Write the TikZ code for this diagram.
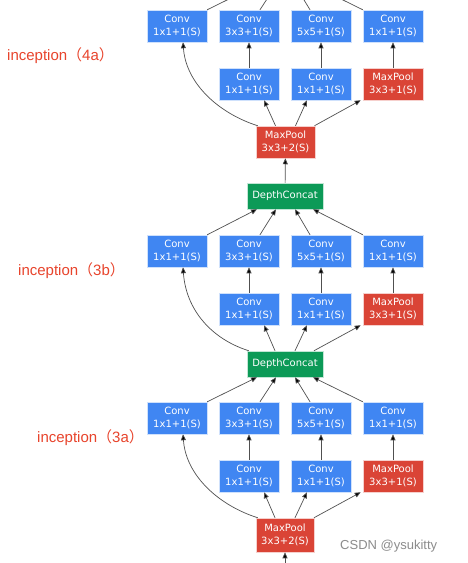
\documentclass[tikz,border=0pt]{standalone}
\usepackage{fontspec}
\setmainfont{DejaVu Sans}
\newfontfamily\labfont{Liberation Sans}
\newfontfamily\cjkfont{Noto Sans CJK SC}
\usetikzlibrary{arrows.meta,calc}
\definecolor{gblue}{HTML}{4086F2}
\definecolor{gred}{HTML}{DA4436}
\definecolor{ggreen}{HTML}{0C9A57}
\definecolor{labred}{HTML}{E8442C}
\definecolor{edgegray}{HTML}{505050}
\tikzset{
  box/.style={draw=white!75!#1, line width=0.5pt, fill=#1, text=white, font=\fontsize{10}{13}\selectfont,
    align=center, inner sep=0pt, minimum width=60pt, minimum height=32pt},
  convbox/.style={box=gblue},
  poolbox/.style={box=gred},
  concatbox/.style={box=ggreen, minimum width=76pt, minimum height=26pt},
  hiddenbox/.style={inner sep=0pt, minimum width=76pt, minimum height=26pt},
  edge/.style={draw=edgegray, line width=0.7pt, -{Triangle[length=6pt,width=5pt,fill=black]}},
  lab/.style={text=labred, font=\labfont\fontsize{15}{15}\selectfont, anchor=west, inner sep=0pt},
}
\newcommand{\inceptionmodule}[3]{%
  % #1 prefix, #2 top row y, #3 source node
  \node[convbox] (#1a1) at (177,#2) {Conv\\1x1+1(S)};
  \node[convbox] (#1a2) at (249,#2) {Conv\\3x3+1(S)};
  \node[convbox] (#1a3) at (321,#2) {Conv\\5x5+1(S)};
  \node[convbox] (#1a4) at (393,#2) {Conv\\1x1+1(S)};
  \node[convbox] (#1b2) at (249,#2+58) {Conv\\1x1+1(S)};
  \node[convbox] (#1b3) at (321,#2+58) {Conv\\1x1+1(S)};
  \node[poolbox] (#1b4) at (393,#2+58) {MaxPool\\3x3+1(S)};
  \draw[edge] ($(#3.north west)+(2,0)$) .. controls +(-38,-12) and +(3,42) .. ($(#1a1.south)+(6,0)$);
  \draw[edge] ($(#3.north)+(-10,0)$) -- ($(#1b2.south)+(15,0)$);
  \draw[edge] ($(#3.north)+(10,0)$) -- ($(#1b3.south)+(-14,0)$);
  \draw[edge] ($(#3.north)+(29,0)$) -- ($(#1b4.south west)+(-2,0)$);
  \draw[edge] (#1b2) -- (#1a2);
  \draw[edge] (#1b3) -- (#1a3);
  \draw[edge] (#1b4) -- (#1a4);
}
\begin{document}
\begin{tikzpicture}[x=1pt,y=-1pt]
\useasboundingbox (0,0) rectangle (468,563);
\clip (0,0) rectangle (468,563);
\fill[white] (0,0) rectangle (468,563);
% target of the top module, outside the visible area
\node[hiddenbox] (dcTop) at (285,-28) {};
\coordinate (inBottom) at (285,580);
% main nodes
\node[poolbox, minimum width=59pt] (mpB) at (285.5,142) {MaxPool\\3x3+2(S)};
\node[concatbox] (dcB) at (285,196) {DepthConcat};
\node[concatbox] (dcA) at (285,364) {DepthConcat};
\node[poolbox, minimum width=58pt, minimum height=34pt] (mpA) at (285,535) {MaxPool\\3x3+2(S)};
% modules
\inceptionmodule{f}{26}{mpB}
\inceptionmodule{b}{251}{dcA}
\inceptionmodule{a}{418}{mpA}
% outputs to concat nodes
\foreach \m/\dc in {f/dcTop, b/dcB, a/dcA}{
  \draw[edge] (\m a1.north east) -- ($(\dc.south)+(-28,0)$);
  \draw[edge] ($(\m a2.north)+(11,0)$) -- ($(\dc.south)+(-9,0)$);
  \draw[edge] ($(\m a3.north)+(-11,0)$) -- ($(\dc.south)+(10,0)$);
  \draw[edge] (\m a4.north west) -- ($(\dc.south)+(28,0)$);
}
\draw[edge] (dcB) -- (mpB);
\draw[edge] (inBottom) -- (mpA);
% labels
\node[lab] (l4a) at (7,56) {inception{\cjkfont （}4a{\cjkfont ）}};
\node[lab] (l3b) at (18,271) {inception{\cjkfont （}3b{\cjkfont ）}};
\node[lab] (l3a) at (37,438) {inception{\cjkfont （}3a{\cjkfont ）}};
% watermark
\node[text=black!45, font=\fontsize{13}{13}\selectfont\labfont, anchor=west, inner sep=0pt] (wm) at (340,546) {CSDN @ysukitty};
\end{tikzpicture}
\end{document}
